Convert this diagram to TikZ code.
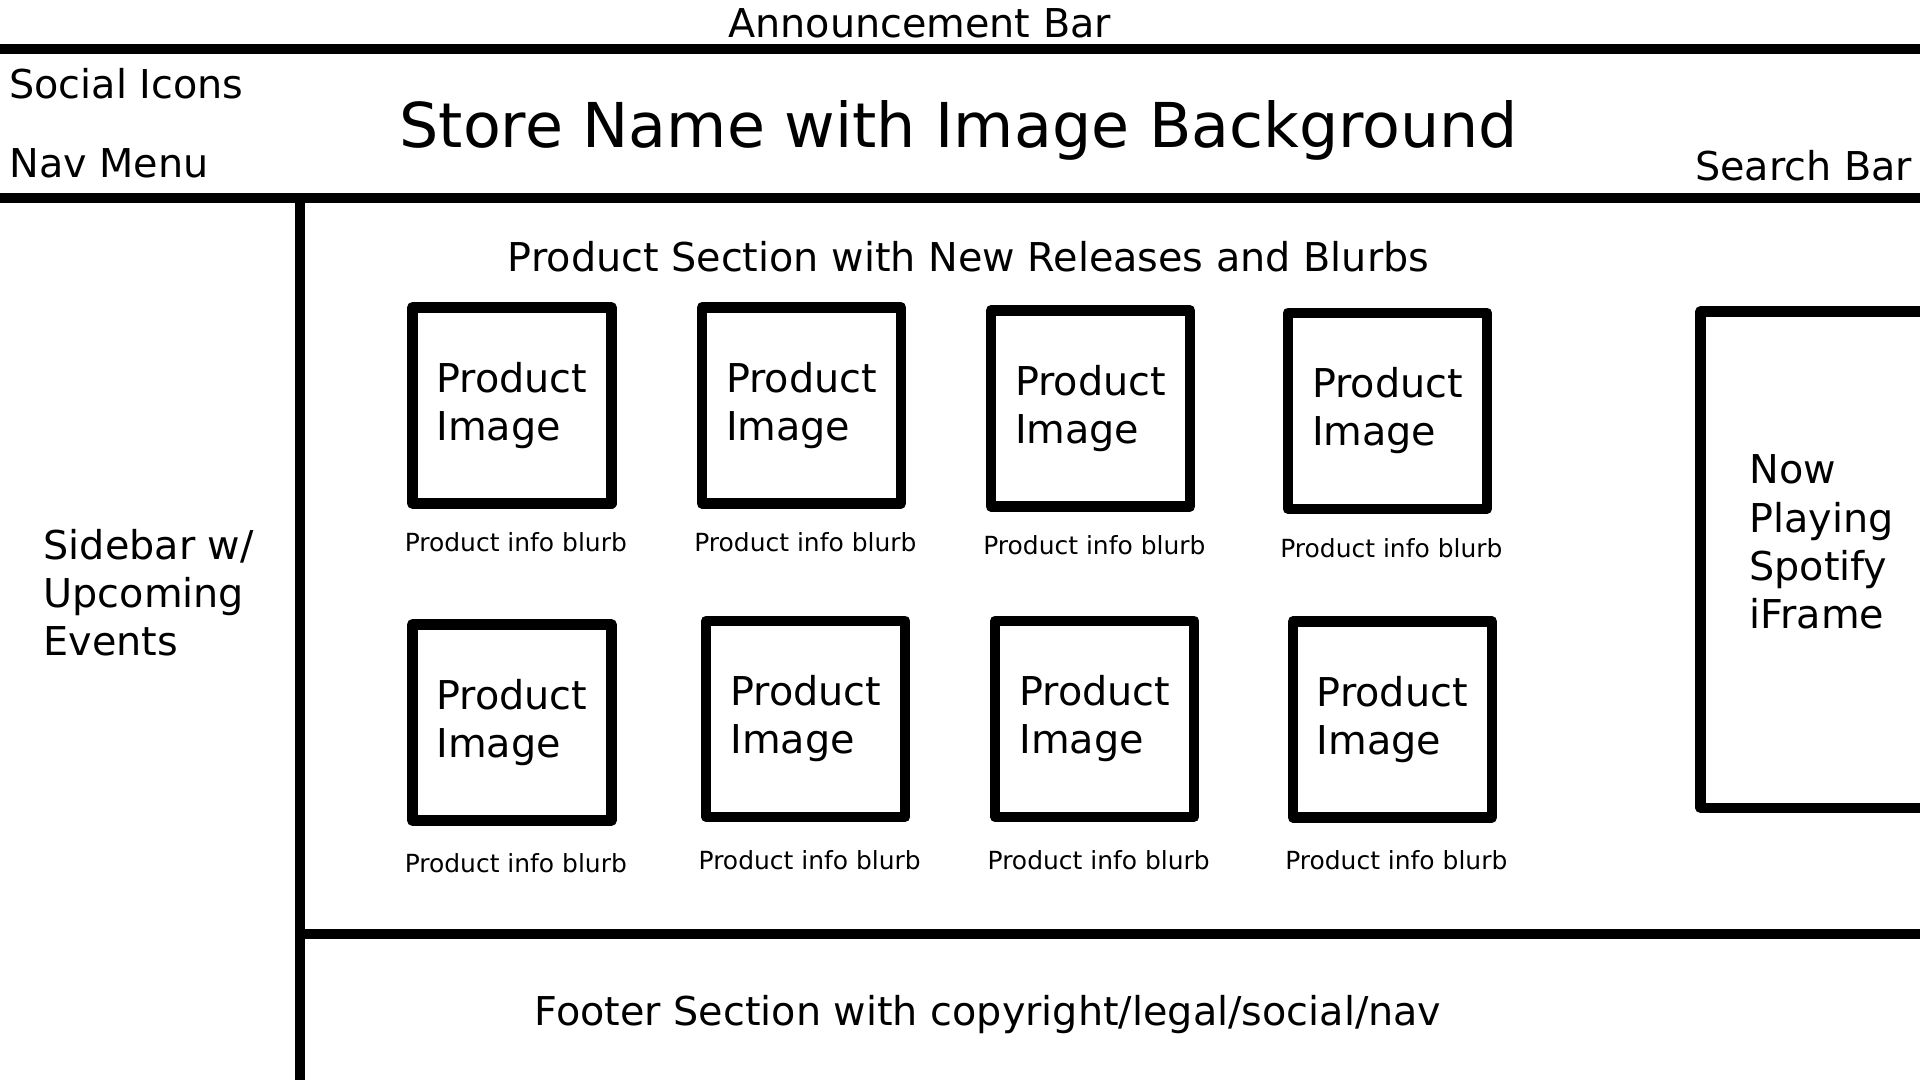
\documentclass[tikz,border=0pt]{standalone}
\usepackage{fontspec}
\setmainfont{DejaVu Sans}
\usetikzlibrary{positioning}

\begin{document}
\begin{tikzpicture}[font=\fontsize{11.3}{13.7}\selectfont, inner sep=0pt,
    sep/.style={line width=3pt},
    prodbox/.style={draw, line width=3pt, line join=round, minimum width=1.99cm, minimum height=1.96cm, align=left},
    blurb/.style={font=\fontsize{7.1}{8.5}\selectfont}]
  \useasboundingbox (0,0) rectangle (19.2,10.8);
  % page frame
  \draw[sep] (-0.1,10.31)--(19.3,10.31);
  \draw[sep] (-0.1,8.82)--(19.3,8.82);
  \draw[sep] (3.0,8.82)--(3.0,-0.1);
  \draw[sep] (3.0,1.46)--(19.3,1.46);
  % header
  \node[anchor=base] (announce) at (9.196,10.425) {Announcement Bar};
  \node[anchor=base west] (social) at (0.086,9.81) {Social Icons};
  \node[anchor=base west] (nav) at (0.086,9.02) {Nav Menu};
  \node[anchor=base, font=\fontsize{17.6}{21}\selectfont] (store) at (9.588,9.32) {Store Name with Image Background};
  \node[anchor=base east] (search) at (19.13,8.99) {Search Bar};
  % sidebar
  \node[anchor=north west, align=left] (sidebar) at (0.429,5.517) {Sidebar w/\\Upcoming\\Events};
  % products
  \node[anchor=base] (section) at (9.686,8.08) {Product Section with New Releases and Blurbs};
  \node[prodbox] (p1) at (5.118,6.747) {Product\\Image};
  \node[prodbox] (p2) at (8.014,6.747) {Product\\Image};
  \node[prodbox] (p3) at (10.904,6.716) {Product\\Image};
  \node[prodbox] (p4) at (13.874,6.692) {Product\\Image};
  \node[prodbox] (p5) at (5.118,3.575) {Product\\Image};
  \node[prodbox] (p6) at (8.057,3.612) {Product\\Image};
  \node[prodbox] (p7) at (10.947,3.612) {Product\\Image};
  \node[prodbox] (p8) at (13.923,3.606) {Product\\Image};
  \foreach \i/\d in {1/0.233,2/0.233,3/0.233,4/0.233,5/0.275,6/0.275,7/0.275,8/0.275}
    \node[blurb, below=\d cm of p\i, xshift=0.04cm] (b\i) {Product info blurb};
  % spotify player
  \node[prodbox, minimum width=3cm, minimum height=4.964cm] (spotify) at (18.505,5.204) {};
  \node[anchor=north west, align=left] (spotifytxt) at (17.486,6.257) {Now\\Playing\\Spotify\\iFrame};
  % footer
  \node[anchor=base] (footer) at (9.88,0.54) {Footer Section with copyright/legal/social/nav};
\end{tikzpicture}
\end{document}
